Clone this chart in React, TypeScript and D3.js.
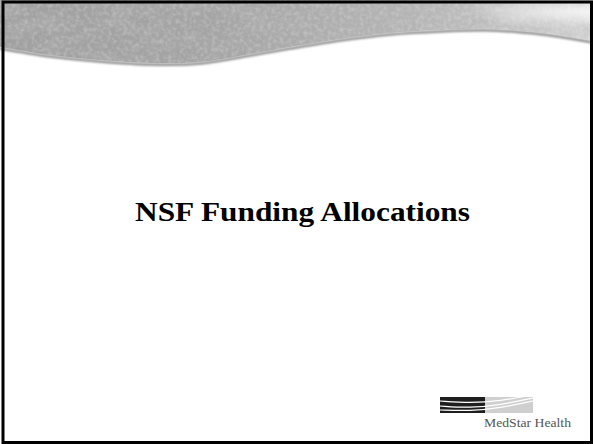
import { useEffect } from 'react';
import * as d3 from 'd3';

// slide content
const TITLE = 'NSF Funding Allocations';
const LOGO_TEXT = 'MedStar Health';

// lower edge of the grey banner (x, y), left to right
const WAVE_EDGE: [number, number][] = [
  [0, 47], [50, 55], [100, 60], [150, 63], [200, 62], [250, 54], [290, 47],
  [340, 39], [390, 33], [440, 30], [493, 29], [543, 33], [593, 41],
];

// white swooshes in the logo mark (x, y)
const SWOOSH_A: [number, number][] = [[440, 401], [470, 403], [500, 401], [533, 395]];
const SWOOSH_B: [number, number][] = [[440, 406], [470, 408], [500, 405], [533, 398]];
const SWOOSH_C: [number, number][] = [[440, 410], [470, 411], [500, 408], [533, 401]];

const W = 593;
const H = 444;

export default function App() {
  useEffect(() => {
    document.body.style.margin = '0';
  }, []);

  const edge = d3.line().curve(d3.curveCatmullRom.alpha(0.5));
  const edgePath = edge(WAVE_EDGE) ?? '';
  const bannerPath = `M0,0L${W},0L${W},${WAVE_EDGE[WAVE_EDGE.length - 1][1]}` +
    edge([...WAVE_EDGE].reverse())!.replace(/^M/, 'L') + 'Z';
  const swoosh = d3.line().curve(d3.curveBasis);

  return (
    <svg width={W} height={H} style={{ display: 'block' }}>
      <defs>
        <linearGradient id="bannerGrad" x1="0" x2="1" y1="0" y2="0">
          <stop offset="0" stopColor="#a0a0a0" />
          <stop offset="0.35" stopColor="#a4a4a4" />
          <stop offset="0.7" stopColor="#b6b6b6" />
          <stop offset="1" stopColor="#d4d4d4" />
        </linearGradient>
        <radialGradient id="cornerLight" cx="1" cy="0.15" r="0.22">
          <stop offset="0" stopColor="#ffffff" stopOpacity="0.8" />
          <stop offset="1" stopColor="#ffffff" stopOpacity="0" />
        </radialGradient>
        <filter id="grain" x="0" y="0" width="100%" height="100%">
          <feTurbulence type="fractalNoise" baseFrequency="0.03 0.06" numOctaves="5" seed="11" />
          <feColorMatrix type="matrix" values="0 0 0 0 0.45  0 0 0 0 0.45  0 0 0 0 0.45  1.6 0 0 0 -0.6" />
        </filter>
        <filter id="fleck" x="0" y="0" width="100%" height="100%">
          <feTurbulence type="fractalNoise" baseFrequency="0.25" numOctaves="2" seed="3" />
          <feColorMatrix type="matrix" values="0 0 0 0 1  0 0 0 0 1  0 0 0 0 1  1.4 0 0 0 -0.55" />
        </filter>
        <filter id="soft">
          <feGaussianBlur stdDeviation="1.2" />
        </filter>
        <clipPath id="bannerClip">
          <path d={bannerPath} />
        </clipPath>
      </defs>

      <rect x={0} y={0} width={W} height={H} fill="#fff" />

      {/* banner */}
      <path d={edgePath} fill="none" stroke="#8a8a8a" strokeWidth={2.5} filter="url(#soft)" transform="translate(0,1.5)" />
      <path d={bannerPath} fill="url(#bannerGrad)" />
      <g clipPath="url(#bannerClip)">
        <rect x={0} y={0} width={W} height={80} filter="url(#grain)" opacity={0.7} />
        <rect x={0} y={0} width={W} height={80} filter="url(#fleck)" opacity={0.35} />
        <rect x={0} y={0} width={W} height={80} fill="url(#cornerLight)" />
      </g>

      {/* title */}
      <text
        x={302.5} y={221} textAnchor="middle"
        fontFamily="'Liberation Serif', 'Times New Roman', serif" fontWeight="bold" fontSize={28}
        textLength={335} lengthAdjust="spacingAndGlyphs" fill="#000"
      >{TITLE}</text>

      {/* logo */}
      <rect x={440} y={397} width={45} height={16} fill="#1e1e1e" />
      <rect x={485} y={397} width={48} height={16} fill="#cfcfcf" />
      {[SWOOSH_A, SWOOSH_B, SWOOSH_C].map((s, i) => (
        <path key={i} d={swoosh(s) ?? ''} fill="none" stroke="#fff" strokeWidth={1.2} />
      ))}
      <text
        x={484} y={427} fontFamily="'Liberation Serif', 'Times New Roman', serif" fontSize={13}
        textLength={87} lengthAdjust="spacingAndGlyphs" fill="#555"
      >{LOGO_TEXT}</text>

      {/* slide border */}
      <rect x={3} y={2} width={588.5} height={440.5} fill="none" stroke="#000" strokeWidth={3} />
    </svg>
  );
}
